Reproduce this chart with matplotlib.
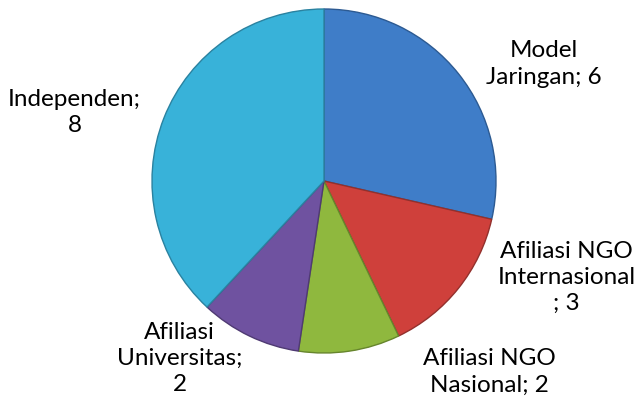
import numpy as np
import matplotlib.pyplot as plt

labels = ['Model\nJaringan; 6', 'Afiliasi NGO\nInternasional\n; 3', 'Afiliasi NGO\nNasional; 2',
          'Afiliasi\nUniversitas;\n2', 'Independen;\n8']
values = [6, 3, 2, 2, 8]
colors = ['#3f7dc8', '#cf403b', '#8fb83e', '#6f52a0', '#38b2d9']
edges = ['#2c5a92', '#93302c', '#66852c', '#4f3a73', '#2a82a0']
# label centres in axes data units (radius = 1)
label_pos = [(1.28, 0.68), (1.41, -0.56), (0.96, -1.11), (-0.84, -1.03), (-1.45, 0.40)]

plt.rcParams['font.family'] = ['Lato', 'DejaVu Sans']

fig = plt.figure(figsize=(6.42, 4.01), dpi=100)
cx, cy, r = 324, 181, 172
ax = fig.add_axes([(cx - r) / 642, (401 - cy - r) / 401, 2 * r / 642, 2 * r / 401])

wedges, _ = ax.pie(values, colors=colors, startangle=90, counterclock=False,
                   wedgeprops=dict(linewidth=1.0))
for w, ec in zip(wedges, edges):
    w.set_edgecolor(ec)

for lab, (x, y) in zip(labels, label_pos):
    ax.text(x, y, lab, ha='center', va='center', fontsize=17.5, color='black',
            linespacing=1.3)

ax.set_xlim(-1, 1)
ax.set_ylim(-1, 1)
ax.set_aspect('equal')
ax.axis('off')

fig.savefig('out.png', dpi=100)
